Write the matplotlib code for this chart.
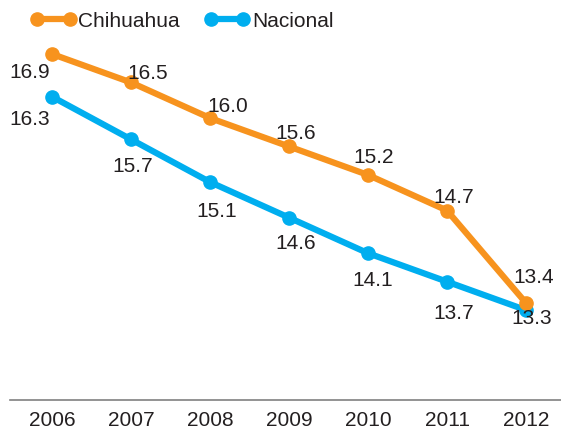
import matplotlib.pyplot as plt

years = [2006, 2007, 2008, 2009, 2010, 2011, 2012]
chihuahua = [16.9, 16.5, 16.0, 15.6, 15.2, 14.7, 13.4]
nacional = [16.3, 15.7, 15.1, 14.6, 14.1, 13.7, 13.3]

# label offsets in pixels (dx, dy), dy up
chi_off = [(-22, -17), (17, 10), (18, 13), (7, 14), (6, 18), (7, 14), (8, 26)]
nac_off = [(-22, -22), (2, -26), (7, -28), (7, -25), (5, -26), (7, -31), (6, -7)]

ORANGE = "#F7931E"
BLUE = "#00AEEF"
TXT = "#231F20"

plt.rcParams["font.family"] = ["Liberation Sans", "DejaVu Sans"]

fig = plt.figure(figsize=(5.61, 4.31), dpi=100)
ax = fig.add_axes([0, 1 - 401 / 431, 1, 401 / 431])

px_year = (526 - 52) / 6
px_unit = (304 - 55) / (16.9 - 13.4)
ax.set_xlim(2006 - 52 / px_year, 2012 + 35 / px_year)
ax.set_ylim(13.4 - 97 / px_unit, 16.9 + 55 / px_unit)

ax.plot(years, chihuahua, color=ORANGE, lw=4.5, marker="o", ms=9.5, label="Chihuahua", zorder=3)
ax.plot(years, nacional, color=BLUE, lw=4.5, marker="o", ms=9.5, label="Nacional", zorder=2)

for x, y, (dx, dy) in zip(years, chihuahua, chi_off):
    ax.annotate(f"{y:.1f}", (x, y), xytext=(dx * 0.72, dy * 0.72), textcoords="offset points",
                ha="center", va="center", fontsize=15, color=TXT, zorder=5)
for x, y, (dx, dy) in zip(years, nacional, nac_off):
    ax.annotate(f"{y:.1f}", (x, y), xytext=(dx * 0.72, dy * 0.72), textcoords="offset points",
                ha="center", va="center", fontsize=15, color=TXT, zorder=5)

for s in ["top", "right", "left"]:
    ax.spines[s].set_visible(False)
ax.spines["bottom"].set_color("#808080")
ax.spines["bottom"].set_linewidth(1.2)
ax.spines["bottom"].set_bounds(2006 - 42 / px_year, 2012 + 35 / px_year)
ax.set_yticks([])
ax.set_xticks(years)
ax.set_xticklabels([str(y) for y in years], fontsize=15, color=TXT)
ax.tick_params(axis="x", length=0, pad=7)

leg = ax.legend(loc="upper left", bbox_to_anchor=(31 / 561, 1 - 12 / 401), ncol=2, frameon=False,
                numpoints=2, handlelength=2.15, handletextpad=0.12, columnspacing=1.2,
                fontsize=15, borderaxespad=0, borderpad=0)
for t in leg.get_texts():
    t.set_color(TXT)

fig.savefig("out.png", dpi=100)
